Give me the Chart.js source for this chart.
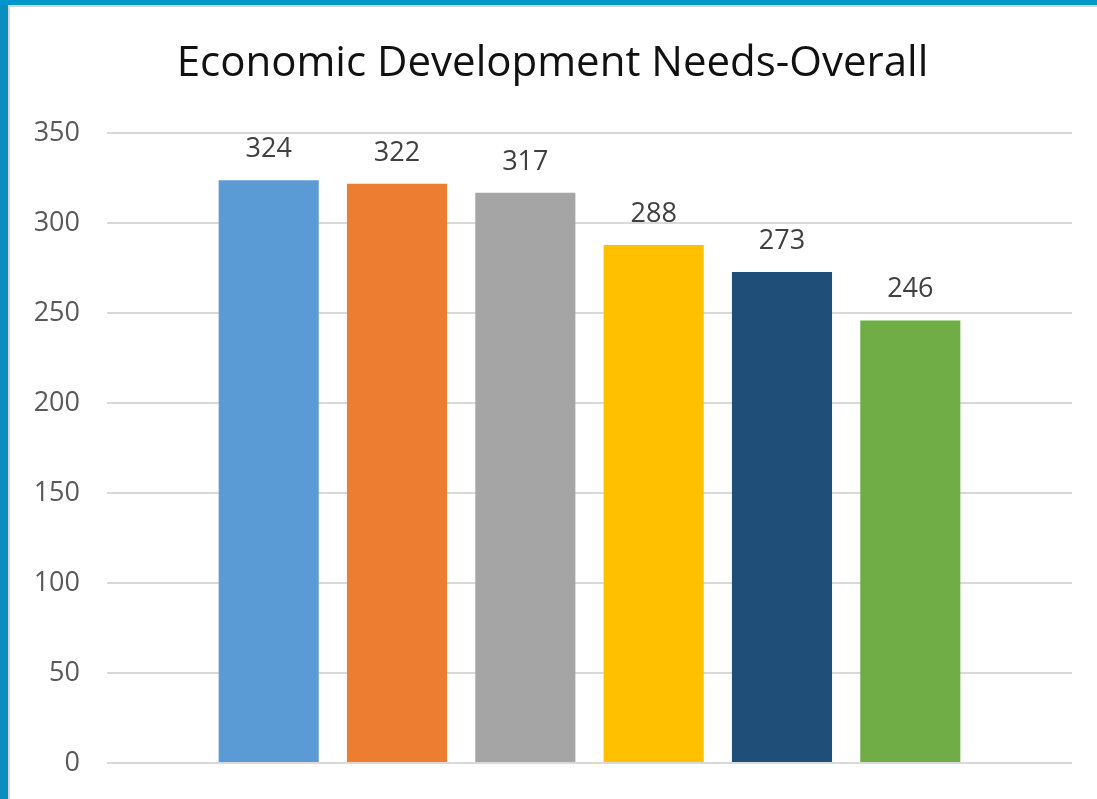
<!DOCTYPE html>
<html>
<head>
<meta charset="utf-8">
<script src="https://cdn.jsdelivr.net/npm/chart.js@4"></script>
<style>
  body { margin: 0; background: #0a8dbf; width: 1097px; height: 799px; overflow: hidden; }
  #frame { position: absolute; left: 8px; top: 5px; width: 1089px; height: 794px;
           border-left: 2px solid #d6d6d6; border-top: 2px solid #d6d6d6; background: #fff; }
  #frame canvas { display: block; }
  #top { position: absolute; left: 0; top: 0; width: 1097px; height: 5px; background: #0097c8; }
</style>
</head>
<body>
<div id="top"></div>
<div id="frame"><canvas id="chart" width="1087" height="792"></canvas></div>
<script>
// positions of the bars (no category labels are shown on the chart)
const categories = [1, 2, 3, 4, 5, 6];
const values = [324, 322, 317, 288, 273, 246];
const barColors = ['#5B9BD5', '#ED7D31', '#A5A5A5', '#FFC000', '#1F4E79', '#70AD47'];
const yMin = 0;
const yMax = 350;
const yStep = 50;

// draw the value above each bar
const valueLabels = {
    id: 'valueLabels',
    afterDatasetsDraw(chart) {
        const ctx = chart.ctx;
        ctx.save();
        ctx.font = '27px "Open Sans"';
        ctx.fillStyle = '#404040';
        ctx.textAlign = 'center';
        ctx.textBaseline = 'alphabetic';
        chart.getDatasetMeta(0).data.forEach(function (bar, i) {
            ctx.fillText(String(values[i]), bar.x, bar.y - 23);
        });
        ctx.restore();
    }
};

const ctx = document.getElementById('chart').getContext('2d');
const chart = new Chart(ctx, {
    type: 'bar',
    data: {
        datasets: [{
            data: categories.map(function (c, i) { return { x: c, y: values[i] }; }),
            backgroundColor: barColors,
            borderWidth: 0,
            categoryPercentage: 0.78,
            barPercentage: 1
        }]
    },
    options: {
        responsive: false,
        animation: false,
        layout: {
            padding: { left: 23, right: 25, top: 0, bottom: 36 }
        },
        plugins: {
            legend: { display: false },
            tooltip: { enabled: false },
            title: {
                display: true,
                text: 'Economic Development Needs-Overall',
                color: '#111',
                font: { family: '"Open Sans"', size: 42, weight: 'normal' },
                padding: { top: 32, bottom: 44 }
            }
        },
        scales: {
            x: {
                type: 'linear',
                display: false,
                offset: false,
                min: -0.26,
                max: 7.26,
                ticks: { stepSize: 1, includeBounds: false }
            },
            y: {
                min: yMin,
                max: yMax,
                border: { display: false },
                grid: { color: '#d9d9d9', lineWidth: 2, drawTicks: false },
                ticks: {
                    stepSize: yStep,
                    padding: 27,
                    color: '#595959',
                    font: { family: '"Open Sans"', size: 27 }
                },
                afterFit: function (scale) {
                    scale.width = 74;
                    // tick padding should not push the plot up from the bottom
                    scale.paddingTop = 0;
                    scale.paddingBottom = 0;
                }
            }
        }
    },
    plugins: [valueLabels]
});
</script>
</body>
</html>
